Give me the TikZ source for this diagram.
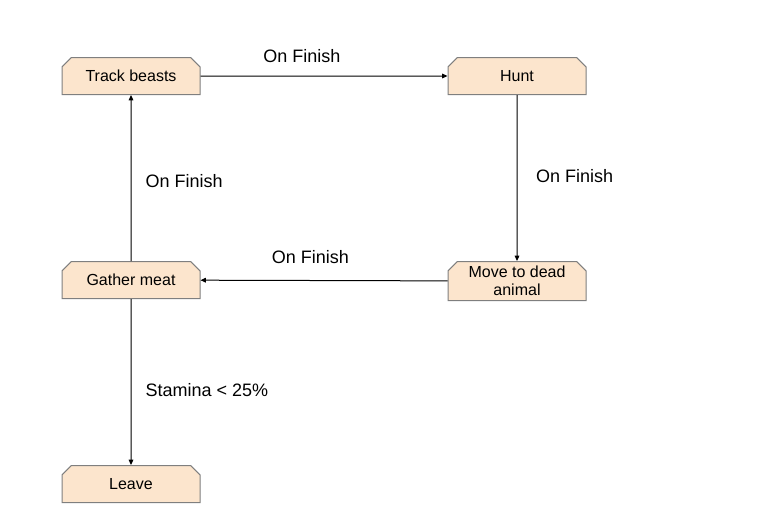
\documentclass[tikz,border=0pt]{standalone}
\usepackage{fontspec}
\setmainfont{Liberation Sans}
\usetikzlibrary{arrows.meta,positioning,shapes.misc}
\definecolor{boxfill}{HTML}{FCE5CD}
\definecolor{boxline}{HTML}{7F7F7F}

\begin{document}
\begin{tikzpicture}[x=0.75pt, y=-0.75pt,
    task/.style={chamfered rectangle, chamfered rectangle corners={north west,north east},
      chamfered rectangle xsep=3.5pt, draw=boxline, fill=boxfill, line width=0.75pt,
      minimum width=103.5pt, minimum height=27.75pt, inner sep=0pt, align=center,
      font=\fontsize{12}{13.5}\selectfont},
    lbl/.style={inner sep=0pt, font=\fontsize{13.5}{16}\selectfont},
    trans/.style={-{Triangle[length=4pt,width=3.5pt]}, line width=0.75pt}]
    \useasboundingbox (0,0) rectangle (782,508);
    \node[task] (track) at (131,76) {Track beasts};
    \node[task] (hunt) [right=185.25pt of track] {Hunt};
    \node[task] (move) [below=124.5pt of hunt] {Move to dead\\animal};
    \node[task] (gather) [below=124.5pt of track] {Gather meat};
    \node[task] (leave) [below=124.5pt of gather] {Leave};
    \path[trans]
    (track) edge node[lbl, above=9.4pt, pos=0.41]{On Finish} (hunt)
    (hunt) edge node[lbl, right=14pt, pos=0.49]{On Finish} (move)
    (move) edge node[lbl, above=12.4pt, pos=0.555]{On Finish} (gather)
    (gather) edge node[lbl, right=10.5pt, pos=0.48]{On Finish} (track)
    (gather) edge node[lbl, right=10.5pt, pos=0.55]{Stamina < 25\%} (leave);
\end{tikzpicture}
\end{document}
